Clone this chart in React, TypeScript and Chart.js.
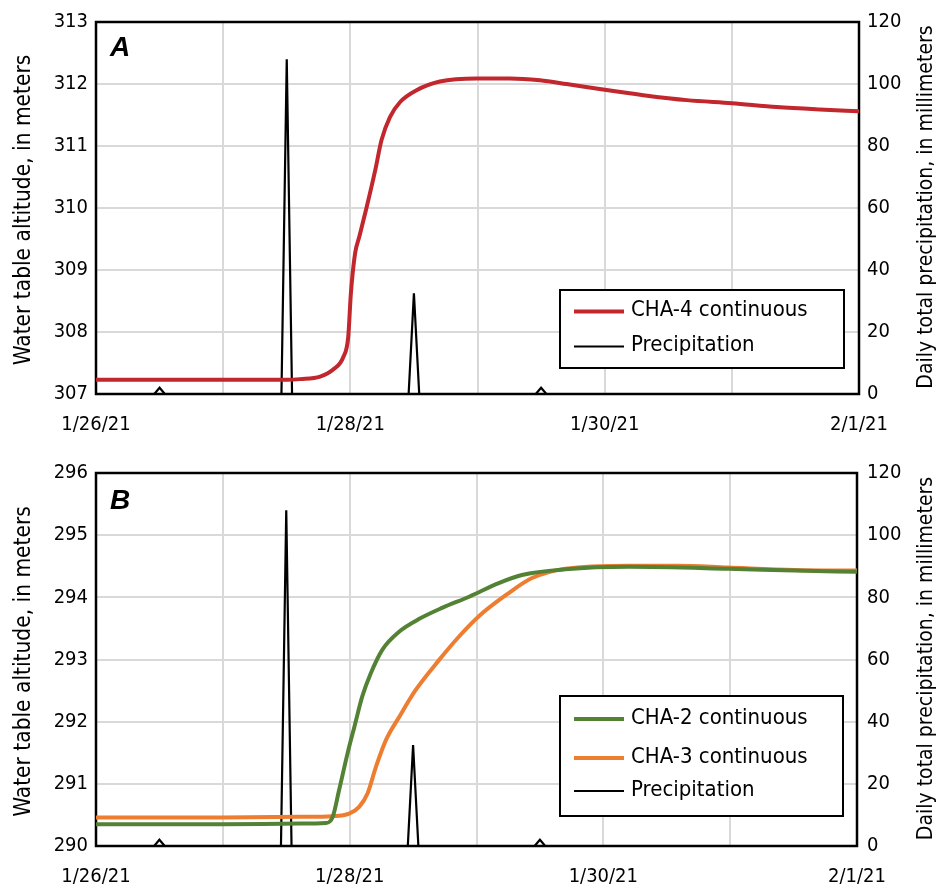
import React, { useEffect, useRef } from 'react';
import { Chart, registerables } from 'chart.js';
Chart.register(...registerables);

// x values are hours since 1/26/21 00:00
const xTickLabels = ['1/26/21', '', '1/28/21', '', '1/30/21', '', '2/1/21'];

const precipHours = [0, 11, 12, 13, 35, 36, 37, 59, 60, 61, 83, 84, 85, 144];
const precipMm = [0, 0, 2, 0, 0, 108, 0, 0, 32.5, 0, 0, 2, 0, 0];

const cha4Hours = [0, 12, 24, 36, 38.5, 42.3, 44.7, 46.7, 47.6, 48.1, 48.9, 49.7, 51.1, 52.7, 53.9, 55.5, 57.4, 60.5, 64.9, 71.9, 78.1, 83.8, 88.8, 95.7, 103.3, 111.5, 120, 128.5, 136.6, 144];
const cha4Alt = [307.23, 307.23, 307.23, 307.23, 307.24, 307.28, 307.39, 307.6, 307.92, 308.62, 309.27, 309.54, 310.02, 310.61, 311.1, 311.47, 311.71, 311.9, 312.04, 312.09, 312.09, 312.06, 312.0, 311.91, 311.82, 311.74, 311.69, 311.63, 311.59, 311.56];

const cha2Hours = [0, 24, 38.5, 43.5, 44.8, 46.0, 47.6, 48.9, 50.4, 52.0, 54.2, 57.4, 61.1, 65.5, 70.6, 76.2, 80.6, 88.8, 100.8, 119.6, 132.2, 144];
const cha2Alt = [290.35, 290.35, 290.36, 290.37, 290.47, 290.9, 291.49, 291.92, 292.41, 292.78, 293.16, 293.45, 293.65, 293.83, 294.01, 294.23, 294.36, 294.45, 294.49, 294.46, 294.43, 294.41];

const cha3Hours = [0, 24, 38.5, 44.8, 47.9, 49.8, 51.4, 53.0, 54.9, 57.4, 60.5, 64.9, 68.7, 72.5, 77.8, 82.5, 88.8, 100.8, 110.2, 119.6, 132.2, 144];
const cha3Alt = [290.46, 290.46, 290.47, 290.48, 290.52, 290.63, 290.85, 291.28, 291.71, 292.08, 292.51, 292.99, 293.37, 293.7, 294.05, 294.31, 294.46, 294.51, 294.51, 294.48, 294.44, 294.43];

const leftTitle = 'Water table altitude, in meters';
const rightTitle = 'Daily total precipitation, in millimeters';

const COND = '"DejaVu Sans Condensed", "Liberation Sans Narrow", sans-serif';

const pts = (xs: number[], ys: number[]) => xs.map((x, i) => ({ x, y: ys[i] }));

const waterDs = (label: string, xs: number[], ys: number[], color: string) => ({
  label,
  data: pts(xs, ys),
  borderColor: color,
  backgroundColor: color,
  borderWidth: 4,
  pointRadius: 0,
  cubicInterpolationMode: 'monotone',
  yAxisID: 'y',
});

const precipDs = () => ({
  label: 'Precipitation',
  data: pts(precipHours, precipMm),
  borderColor: '#000',
  backgroundColor: '#000',
  borderWidth: 2.2,
  pointRadius: 0,
  tension: 0,
  yAxisID: 'y2',
});

const decorPlugin = {
  id: 'decor',
  beforeDatasetsDraw(chart: any) {
    const { left, top, right, bottom } = chart.chartArea;
    const ctx = chart.ctx;
    ctx.save();
    ctx.strokeStyle = '#000';
    ctx.lineWidth = 2.5;
    ctx.strokeRect(left, top, right - left, bottom - top);
    ctx.restore();
  },
  afterDraw(chart: any, _args: any, opts: any) {
    const ctx = chart.ctx;
    const ca = chart.chartArea;
    ctx.save();
    ctx.fillStyle = '#000';
    // panel letter
    ctx.font = 'italic bold 28px "Liberation Sans", Arial, sans-serif';
    ctx.textAlign = 'left';
    ctx.textBaseline = 'alphabetic';
    ctx.fillText(opts.letter, ca.left + 14, ca.top + opts.letterDy);
    // axis titles
    const cy = (ca.top + ca.bottom) / 2;
    ctx.textAlign = 'center';
    ctx.textBaseline = 'middle';
    ctx.save();
    ctx.font = `${opts.titleSizeL}px ${COND}`;
    ctx.translate(24, cy + 2);
    ctx.rotate(-Math.PI / 2);
    ctx.fillText(leftTitle, 0, 0);
    ctx.restore();
    ctx.save();
    ctx.font = `${opts.titleSizeR}px ${COND}`;
    ctx.translate(927, cy - 1);
    ctx.rotate(-Math.PI / 2);
    ctx.fillText(rightTitle, 0, 0);
    ctx.restore();
    // legend
    const b = opts.box;
    ctx.fillStyle = '#fff';
    ctx.fillRect(b.x0, b.y0, b.x1 - b.x0, b.y1 - b.y0);
    ctx.strokeStyle = '#000';
    ctx.lineWidth = 2;
    ctx.strokeRect(b.x0, b.y0, b.x1 - b.x0, b.y1 - b.y0);
    ctx.font = `22px ${COND}`;
    ctx.textAlign = 'left';
    ctx.textBaseline = 'middle';
    chart.data.datasets.forEach((ds: any, i: number) => {
      const y = opts.rows[i];
      ctx.strokeStyle = ds.borderColor;
      ctx.lineWidth = ds.borderWidth;
      ctx.beginPath();
      ctx.moveTo(b.x0 + 14, y);
      ctx.lineTo(b.x0 + 64, y);
      ctx.stroke();
      ctx.fillStyle = '#000';
      ctx.fillText(ds.label, b.x0 + 71, y - 1);
    });
    ctx.restore();
  },
};

function makeConfig(p: any) {
  const gridColor = '#d9d9d9';
  const tickFont = { family: COND, size: 20 };
  return {
    type: 'line',
    data: { datasets: p.datasets },
    plugins: [decorPlugin],
    options: {
      animation: false,
      responsive: false,
      events: [],
      layout: { padding: { top: p.padTop, left: 0, right: 0, bottom: 0 } },
      plugins: {
        legend: { display: false },
        tooltip: { enabled: false },
        decor: p.decor,
      },
      scales: {
        x: {
          type: 'linear',
          min: 0,
          max: 144,
          afterFit: (s: any) => { s.height = p.xHeight; },
          border: { display: false },
          grid: { color: gridColor, lineWidth: 2, drawTicks: false },
          ticks: {
            stepSize: 24,
            autoSkip: false,
            maxRotation: 0,
            padding: 19,
            color: '#000',
            font: tickFont,
            callback: (v: any) => xTickLabels[Math.round(Number(v) / 24)] ?? '',
          },
        },
        y: {
          position: 'left',
          min: p.yMin,
          max: p.yMax,
          afterFit: (s: any) => { s.width = 96; },
          border: { display: false },
          grid: { color: gridColor, lineWidth: 2, drawTicks: false },
          ticks: { stepSize: 1, padding: 8, color: '#000', font: tickFont },
        },
        y2: {
          position: 'right',
          min: 0,
          max: 120,
          afterFit: (s: any) => { s.width = p.rightWidth; },
          border: { display: false },
          grid: { display: false, drawTicks: false },
          ticks: { stepSize: 20, padding: p.rightPad, color: '#000', font: tickFont },
        },
      },
    },
  };
}

function Panel({ top, height, cfg }: any) {
  const ref = useRef<HTMLCanvasElement>(null);
  useEffect(() => {
    const chart = new Chart(ref.current as HTMLCanvasElement, cfg as any);
    return () => chart.destroy();
  }, []);
  return (
    <canvas
      ref={ref}
      width={940}
      height={height}
      style={{ position: 'absolute', left: 0, top, width: 940, height, display: 'block' }}
    />
  );
}

export default function App() {
  const cfgA = makeConfig({
    datasets: [waterDs('CHA-4 continuous', cha4Hours, cha4Alt, '#C1272D'), precipDs()],
    yMin: 307,
    yMax: 313,
    padTop: 22,
    xHeight: 46,
    rightWidth: 81,
    rightPad: 8,
    decor: {
      letter: 'A',
      letterDy: 34,
      titleSizeL: 22.5,
      titleSizeR: 21,
      box: { x0: 560, y0: 290, x1: 844, y1: 368 },
      rows: [311.5, 346.5],
    },
  });
  const cfgB = makeConfig({
    datasets: [
      waterDs('CHA-2 continuous', cha2Hours, cha2Alt, '#548235'),
      waterDs('CHA-3 continuous', cha3Hours, cha3Alt, '#ED7D31'),
      precipDs(),
    ],
    yMin: 290,
    yMax: 296,
    padTop: 33,
    xHeight: 41,
    rightWidth: 83,
    rightPad: 10,
    decor: {
      letter: 'B',
      letterDy: 36,
      titleSizeL: 22.5,
      titleSizeR: 21,
      box: { x0: 560, y0: 256, x1: 843, y1: 376 },
      rows: [279, 318, 351],
    },
  });
  return (
    <div style={{ position: 'absolute', left: 0, top: 0, width: 940, height: 887, background: '#fff' }}>
      <Panel top={0} height={440} cfg={cfgA} />
      <Panel top={440} height={447} cfg={cfgB} />
    </div>
  );
}
